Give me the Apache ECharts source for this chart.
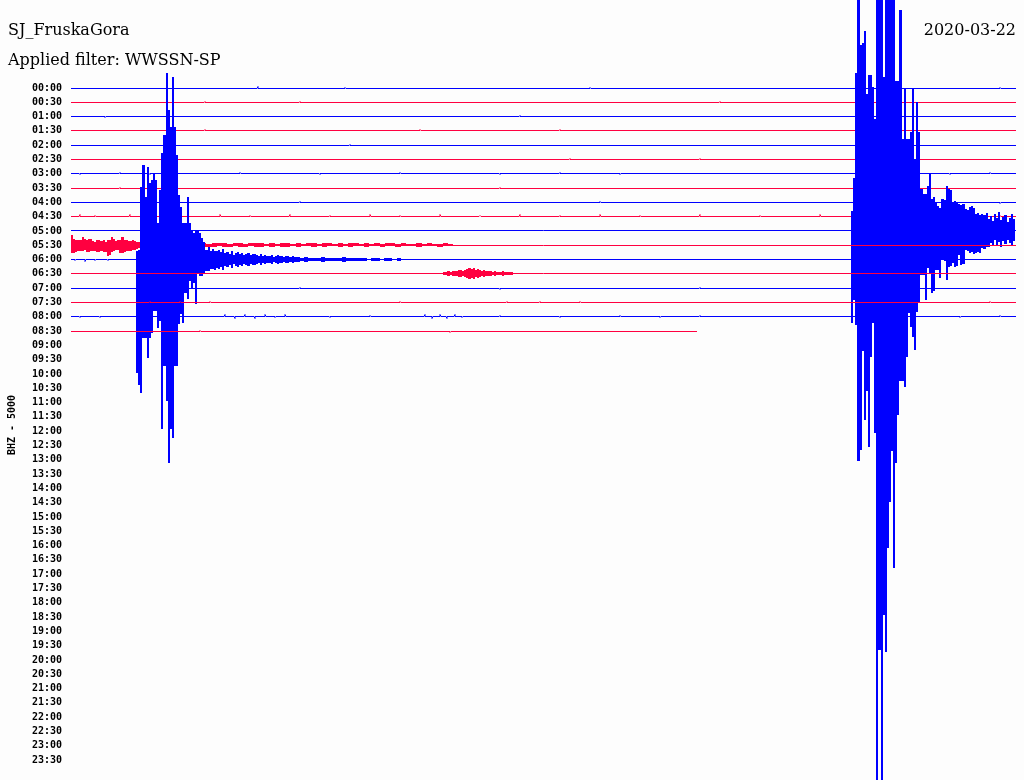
<!DOCTYPE html>
<html><head><meta charset="utf-8">
<script src="https://cdn.jsdelivr.net/npm/echarts@6/dist/echarts.min.js"></script>
<style>html,body{margin:0;padding:0;background:#fdfdfd}#c{width:1024px;height:780px}</style>
</head><body><div id="c"></div><script>
// ---- texts ----
const stationName = 'SJ_FruskaGora';
const dateLabel = '2020-03-22';
const filterLabel = 'Applied filter: WWSSN-SP';
const channelLabel = 'BHZ - 5000';

// ---- tick labels (one row every 30 minutes) ----
const rowLabels = ['00:00','00:30','01:00','01:30','02:00','02:30','03:00','03:30','04:00','04:30',
  '05:00','05:30','06:00','06:30','07:00','07:30','08:00','08:30','09:00','09:30','10:00','10:30',
  '11:00','11:30','12:00','12:30','13:00','13:30','14:00','14:30','15:00','15:30','16:00','16:30',
  '17:00','17:30','18:00','18:30','19:00','19:30','20:00','20:30','21:00','21:30','22:00','22:30',
  '23:00','23:30'];

const ROW_SECONDS = 1800;     // each row spans 30 min
const rowsRecorded = 18;      // 00:00 .. 08:30 have data
const lastRowEnd = 1192;      // seconds of data in the 08:30 row
const AMP_PER_ROW = 14.3;     // amplitude units per row spacing

// ---- main shock, row 05:00 : envelope (up / down), one sample every 4 s ----
const mainStart = 1486;
const mainUp = [19,52,158,300,186,188,200,136,156,156,144,111,300,300,300,154,300,300,300,300,
  300,150,150,221,91,143,91,91,98,143,71,128,98,41,36,36,44,56,31,33,28,24,22,31,30,44,41,40,
  28,29,27,26,25,26,21,20,23,24,22,16,17,15,16,15,17,11,14,9,16,12,18,10,13,15,8,12,16,11];
const mainDown = [92,69,94,230,219,120,189,160,216,126,92,202,560,419,560,384,421,317,271,220,
  337,232,184,150,150,156,126,82,96,106,119,81,71,44,44,69,37,42,62,60,39,39,47,29,30,49,36,35,
  32,36,35,24,34,33,19,20,22,21,23,22,21,22,17,18,16,16,12,15,9,14,11,16,10,13,9,12,14,10];

// ---- coda of the main shock at the start of row 05:30 ----
const coda0530Up = [10,6,5,5,5,8,6,5,6,6,4,3,5,5,4,5,3,5,5,8,6,4,5,5,8,5,5,4,4,5,4,3];
const coda0530Down = [7,7,6,5,5,5,4,6,6,5,5,5,6,6,5,6,6,10,9,6,5,4,4,7,7,6,5,5,5,4,4,3];
const tail0530Up = [3,2,3,2,2,3,2,2,2,3,2,2,2,1,2,2,2,1,2,2,1,2,2,2,1,2,1,2,2,1,2,1,2,2,1,2,2,1,2,1,
  2,2,1,2,1,2,1,2,2,1,2,1,1,2,1,2,1,1,2,1];
const tail0530Down = [2,1,1,1,2,1,1,1,1,1,1,0,1,1,1,0,1,1,0,1,1,0,1,1,0,1,0,1,1,0,1,0,0,1,0,1,0,0,1,0,
  1,0,0,1,0,0,1,0,0,1,0,0,0,1,0,0,0,1,0,0];

// ---- aftershock, row 06:00 ----
const afterStart = 124;
const afterUp = [8,9,72,94,62,92,76,79,86,79,36,69,106,124,186,149,132,182,132,104,64,52,36,36,62,
  36,29,26,29,29,26,21,17,9,12,8,10,8];
const afterDown = [113,125,133,78,78,98,78,73,51,51,68,61,169,106,141,203,169,178,106,106,64,54,63,
  33,39,21,29,23,44,14,16,16,13,11,11,9,9,10];
const afterCoda1 = [8,9,7,10,6,7,5,8,4,6,7,5,6,4,5,6,4,5,5,4,3,5,3,4,3,3,4,2,3,4,3,3,2,3,3,2,3,2];
const afterCoda2 = [2,1,2,1,1,1,2,1,1,1,1,2,1,1,1,1,1,0,1,1,0,1,1,0,1];

// ---- small burst, row 06:30 ----
const burst0630 = [1,1,2,1,2,2,2,3,3,2,3,4,5,4,5,3,4,3,2,3,2,2,2,1,2,1,1,1,2,1,1,1,1];

// ---- isolated small ticks: [row, second, amplitude] ----
const tickSpikes = [
  [0,356,2],[0,522,1],[0,989,1],[0,1512,2],[0,1770,1],
  [1,255,1],[1,436,1],[1,1236,1],
  [2,65,-1],[2,855,1],[2,1579,1],
  [3,255,1],[3,665,1],[3,931,1],
  [4,531,1],[4,1541,1],
  [5,950,1],[5,1198,1],
  [6,17,-1],[6,93,1],[6,150,-1],[6,322,1],[6,474,-1],[6,627,1],[6,817,-1],[6,931,1],[6,1046,-1],[6,1579,1],[6,1674,-1],[6,1751,1],
  [7,93,1],[7,817,1],[7,1541,-1],
  [8,436,1],[8,1008,1],[8,1770,-1],
  [9,17,2],[9,46,1],[9,112,2],[9,189,1],[9,284,2],[9,341,1],[9,417,2],[9,493,1],[9,570,2],[9,627,1],[9,703,2],
  [9,779,1],[9,855,2],[9,931,1],[9,1008,2],[9,1084,1],[9,1198,2],[9,1313,1],[9,1427,2],[9,1579,1],[9,1674,2],[9,1770,1],
  [12,8,-1],[12,27,-2],[12,46,-1],[12,70,-1],
  [14,436,1],[14,817,-1],[14,1198,1],
  [15,150,1],[15,208,1],[15,265,1],[15,627,1],[15,830,1],[15,893,1],[15,970,1],[15,1751,1],
  [16,17,-1],[16,55,-1],[16,150,-1],[16,293,2],[16,312,-2],[16,331,2],[16,350,-2],[16,370,2],[16,389,-1],[16,408,2],
  [16,493,-1],[16,570,1],[16,674,2],[16,688,-2],[16,703,2],[16,716,-2],[16,731,2],[16,745,-1],[16,817,1],[16,931,-1],
  [16,1046,1],[16,1122,-1],[16,1198,1],[16,1579,1],[16,1694,-1],[16,1770,1],
  [17,246,1],[17,722,-1]
];

const BLUE = '#0000ff', RED = '#ff0040';

const envelopes = [
  {row: 10, start: mainStart, step: 4, up: mainUp, down: mainDown},
  {row: 11, start: 0, step: 4, up: coda0530Up, down: coda0530Down},
  {row: 11, start: 128, step: 10, up: tail0530Up, down: tail0530Down},
  {row: 12, start: afterStart, step: 4, up: afterUp, down: afterDown},
  {row: 12, start: 276, step: 4, up: afterCoda1, down: afterCoda1},
  {row: 12, start: 428, step: 8, up: afterCoda2, down: afterCoda2},
  {row: 13, start: 709, step: 4, up: burst0630, down: burst0630}
];

function buildLine(r) {
  const end = r === rowsRecorded - 1 ? lastRowEnd : ROW_SECONDS;
  const pts = [[0, 0]];
  tickSpikes.forEach(s => {
    if (s[0] !== r) return;
    pts.push([s[1] - 1, 0], [s[1], s[2]], [s[1] + 1, 0]);
  });
  pts.push([end, 0]);
  pts.sort((a, b) => a[0] - b[0]);
  return pts.map(p => [p[0], r - p[1] / AMP_PER_ROW]);
}

function buildColumns(r) {
  const cols = [];
  envelopes.forEach(e => {
    if (e.row !== r) return;
    e.up.forEach((u, k) => {
      const t = e.start + k * e.step;
      cols.push([t, r - u / AMP_PER_ROW, t + e.step, r + e.down[k] / AMP_PER_ROW]);
    });
  });
  return cols;
}

const rowLines = [];
for (let r = 0; r < rowsRecorded; r++) rowLines.push(buildLine(r));

// crisp (pixel-snapped) rendering like the original plotter
const snap = v => Math.floor(v) + 0.5;

const series = [];
for (let r = 0; r < rowsRecorded; r++) {
  const color = r % 2 ? RED : BLUE;
  series.push({
    type: 'custom', data: [[r]], silent: true, animation: false, z: 2, clip: false,
    renderItem: (params, api) => {
      const pts = rowLines[r].map(p => {
        const c = api.coord(p);
        return [Math.round(c[0]), snap(c[1])];
      });
      return {type: 'polyline', shape: {points: pts},
        style: {stroke: color, lineWidth: 1, fill: null}};
    }
  });
  const cols = buildColumns(r);
  if (cols.length) {
    series.push({
      type: 'custom', data: cols, silent: true, animation: false, z: 2, clip: false,
      renderItem: (params, api) => {
        const a = api.coord([api.value(0), api.value(1)]);
        const b = api.coord([api.value(2), api.value(3)]);
        const x0 = Math.round(a[0]), x1 = Math.max(Math.round(b[0]), x0 + 1);
        const y0 = Math.floor(a[1]), y1 = Math.floor(b[1]) + 1;
        return {type: 'rect', shape: {x: x0, y: y0, width: x1 - x0, height: y1 - y0},
          style: {fill: color}};
      }
    });
  }
}

const chart = echarts.init(document.getElementById('c'), null, {renderer: 'canvas'});
chart.setOption({
  backgroundColor: '#fdfdfd',
  animation: false,
  grid: {left: 71, right: 8, top: 88, bottom: 20},
  xAxis: {type: 'value', min: 0, max: ROW_SECONDS, show: false},
  yAxis: {
    type: 'value', min: 0, max: rowLabels.length - 1, interval: 1, inverse: true,
    axisLine: {show: false}, axisTick: {show: false}, splitLine: {show: false},
    axisLabel: {
      margin: 9, color: '#000', fontFamily: 'DejaVu Sans Mono', fontSize: 10, fontWeight: 'bold',
      formatter: v => rowLabels[v] || ''
    }
  },
  graphic: [
    {type: 'text', left: 8, top: 23, style: {text: stationName, font: '16px "DejaVu Serif"', fill: '#000'}},
    {type: 'text', right: 8, top: 23, style: {text: dateLabel, font: '16px "DejaVu Serif"', fill: '#000'}},
    {type: 'text', left: 8, top: 53, style: {text: filterLabel, font: '16px "DejaVu Serif"', fill: '#000'}},
    {type: 'text', x: 12, y: 425, rotation: Math.PI / 2,
      style: {text: channelLabel, font: 'bold 10px "DejaVu Sans Mono"', fill: '#000', align: 'center', verticalAlign: 'middle'}}
  ],
  series: series
});
</script></body></html>
